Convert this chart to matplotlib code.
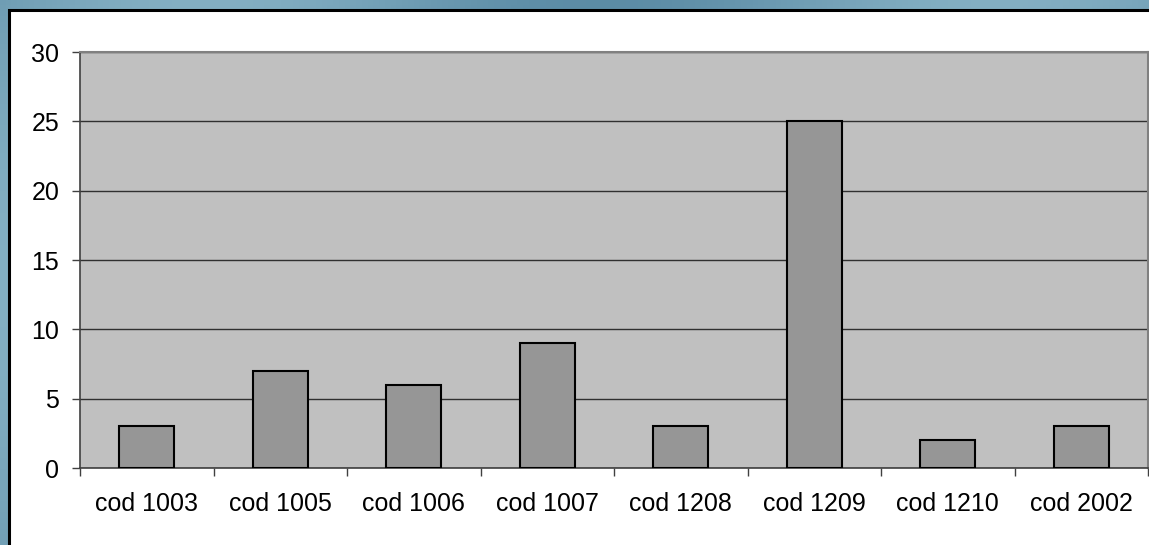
import matplotlib
matplotlib.use("Agg")
import matplotlib.pyplot as plt
from matplotlib.patches import Rectangle
import numpy as np

categories = ["cod 1003", "cod 1005", "cod 1006", "cod 1007", "cod 1208", "cod 1209", "cod 1210", "cod 2002"]
values = [3, 7, 6, 9, 3, 25, 2, 3]
yticks = [0, 5, 10, 15, 20, 25, 30]

plt.rcParams['font.family'] = ['Liberation Sans', 'DejaVu Sans']

W, H = 1149, 545
fig = plt.figure(figsize=(W / 100, H / 100), dpi=100)
fig.patch.set_facecolor('#5f8fa6')

# background gradient
bg = fig.add_axes([0, 0, 1, 1], zorder=-10)
gx = np.linspace(0, 1, 200)
gy = np.linspace(0, 1, 100)
X, Y = np.meshgrid(gx, gy)
c1 = np.array([0.36, 0.55, 0.65])
c2 = np.array([0.62, 0.78, 0.84])
t = (0.5 + 0.5 * np.sin(X * 9 + Y * 3)) * 0.6
img = c1[None, None, :] * (1 - t[..., None]) + c2[None, None, :] * t[..., None]
bg.imshow(img, aspect='auto', extent=[0, 1, 0, 1])
bg.set_axis_off()

# white panel
fig.patches.append(Rectangle((9 / W, -0.01), 1.0, (H - 10) / H + 0.01, transform=fig.transFigure,
                             facecolor='white', edgecolor='black', linewidth=2.2, zorder=-5))

left, right = 80 / W, 1148 / W
bottom, top = 1 - 468 / H, 1 - 52 / H
ax = fig.add_axes([left, bottom, right - left, top - bottom])
ax.set_facecolor('#c0c0c0')

x = np.arange(len(categories))
ax.bar(x, values, width=0.41, color='#969696', edgecolor='black', linewidth=1.5, zorder=3)

ax.set_xlim(-0.5, len(categories) - 0.5)
ax.set_ylim(0, 30)
ax.set_yticks(yticks)
ax.set_yticklabels([str(v) for v in yticks], fontsize=18)
ax.yaxis.grid(True, color='#303030', linewidth=1.0, zorder=1)
ax.set_axisbelow(True)

ax.set_xticks(x)
ax.set_xticklabels(categories, fontsize=18)
ax.tick_params(axis='x', length=0, pad=17)
ax.set_xticks(np.arange(len(categories) + 1) - 0.5, minor=True)
ax.tick_params(axis='x', which='minor', length=6, width=1, color='#404040', direction='out')
ax.tick_params(axis='y', length=6, width=1, color='#404040', pad=9)

for s in ['top', 'right']:
    ax.spines[s].set_color('#808080')
    ax.spines[s].set_linewidth(1.5)
ax.spines['left'].set_color('#404040')
ax.spines['bottom'].set_color('#404040')
ax.spines['left'].set_linewidth(1.2)
ax.spines['bottom'].set_linewidth(1.2)

fig.savefig('out.png', dpi=100, facecolor=fig.get_facecolor())
